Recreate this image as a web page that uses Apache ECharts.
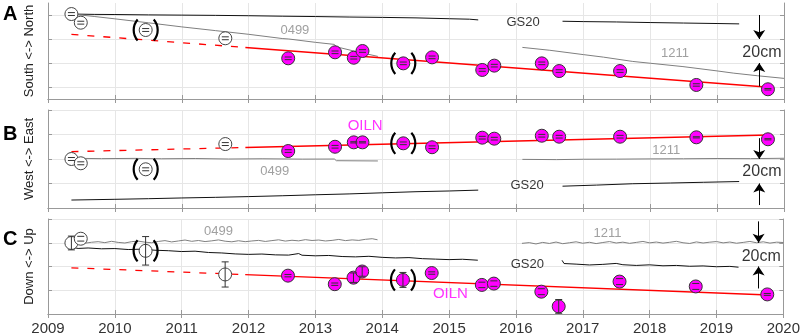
<!DOCTYPE html>
<html>
<head>
  <meta charset="utf-8">
</head>
<body style="margin: 0; background: #fff">
  <div id="container" style="width: 803px; height: 336px"></div>
  <script src="https://cdn.jsdelivr.net/npm/echarts@6/dist/echarts.min.js"></script>
  <script>
// campaign dates (decimal years)
const surveyYears = [2012.59, 2013.29, 2013.57, 2013.70, 2014.31, 2014.74, 2015.49, 2015.67, 2016.38, 2016.64, 2017.55, 2018.69, 2019.76];
const oldYears = [2009.35, 2009.49, 2010.46, 2011.65];

// OILN positions, cm (arbitrary offset per panel)
const oilnNorth = [33.9, 38.9, 34.4, 40.0, 29.7, 34.7, 24.2, 27.8, 29.7, 23.3, 23.3, 11.7, 8.1];
const oilnEast = [46.5, 50.0, 53.6, 53.6, 52.8, 49.6, 57.4, 56.6, 59.0, 58.2, 58.2, 57.7, 56.1];
const oilnUp = [32.3, 25.1, 30.6, 35.8, 28.7, 34.5, 24.5, 25.6, 18.8, 6.4, 27.3, 23.2, 16.5];
const oilnErrNorth = [1.1, 1.1, 1.1, 1.1, 1.1, 1.1, 1.1, 1.1, 1.1, 1.1, 1.1, 1.0, 0.6];
const oilnErrEast = [1.1, 1.1, 0.5, 0.5, 1.1, 1.1, 1.1, 1.1, 1.1, 1.1, 1.1, 0.5, 0.5];
const oilnErrUp = [1.0, 1.0, 4.0, 4.0, 6.3, 1.0, 2.3, 2.3, 2.5, 5.8, 2.5, 2.5, 0.8];

// older campaign points (open circles)
const oldNorth = [70.8, 63.6, 57.5, 50.6];
const oldEast = [40.0, 36.5, 31.6, 52.2];
const oldUp = [59.8, 63.4, 53.2, 33.3];
const oldErrNorth = [1.2, 1.2, 1.2, 1.2];
const oldErrEast = [1.2, 1.2, 1.2, 1.2];
const oldErrUp = [5.8, 2.0, 12.0, 10.6];

// linear fit (dashed before 2011.95)
const redNorth = [[2009.35, 53.9], [2011.95, 42.9], [2019.78, 9.8]];
const redEast = [[2009.35, 46.0], [2011.95, 49.4], [2019.78, 59.6]];
const redUp = [[2009.35, 38.9], [2011.95, 33.2], [2019.78, 16.0]];

// continuous GPS stations
const gs20North1 = [[2009.35, 70.8], [2009.7, 70.5], [2010.0, 70.4], [2010.5, 70.1], [2011.0, 69.9], [2011.5, 69.7], [2012.0, 69.4], [2012.5, 69.0], [2013.0, 68.7], [2013.5, 68.3], [2014.0, 68.0], [2014.5, 67.6], [2015.0, 66.9], [2015.3, 66.5], [2015.43, 65.9]];
const gs20North2 = [[2016.69, 64.8], [2017.0, 64.5], [2017.5, 64.2], [2018.0, 63.7], [2018.5, 63.3], [2019.0, 62.9], [2019.33, 62.6]];
const s0499North = [[2009.35, 70.8], [2009.7, 68.7], [2010.0, 66.8], [2010.5, 63.5], [2011.0, 60.1], [2011.5, 57.0], [2012.0, 53.9], [2012.5, 50.4], [2012.6, 50.0], [2013.0, 47.2], [2013.28, 45.5], [2013.31, 43.5], [2013.6, 39.6], [2013.93, 35.5]];
const s1211North = [[2016.09, 43.0], [2016.5, 40.6], [2017.0, 37.0], [2017.3, 34.9], [2017.74, 31.3], [2018.0, 29.8], [2018.49, 27.0], [2019.0, 23.4], [2019.24, 21.6], [2019.6, 19.4], [2020.0, 17.2]];

const gs20East1 = [[2009.35, 6.5], [2010.0, 7.1], [2010.5, 7.6], [2011.0, 8.2], [2011.5, 8.7], [2012.0, 9.3], [2012.5, 10.0], [2013.0, 10.8], [2013.5, 11.5], [2014.0, 12.4], [2014.5, 13.3], [2015.0, 13.9], [2015.43, 14.6]];
const gs20East2 = [[2016.69, 17.8], [2017.2, 18.7], [2017.74, 19.8], [2018.3, 20.4], [2018.8, 21.0], [2019.33, 21.6]];
const s0499East = [[2009.35, 40.6], [2009.8, 40.3], [2010.3, 40.5], [2010.7, 40.2], [2011.2, 40.4], [2011.7, 40.0], [2012.2, 40.2], [2012.8, 39.9], [2013.28, 40.0], [2013.31, 38.6], [2013.93, 38.4]];
const s1211East = [[2016.09, 39.7], [2016.6, 39.5], [2017.0, 39.8], [2017.5, 39.9], [2018.0, 40.1], [2018.5, 40.2], [2019.0, 40.4], [2019.5, 40.3], [2020.0, 40.6]];

const gs20Up1 = [[2009.35, 56.3], [2009.45, 55.2], [2009.6, 55.6], [2009.8, 54.9], [2010.0, 55.1], [2010.2, 54.3], [2010.4, 54.6], [2010.6, 53.7], [2010.8, 53.3], [2011.0, 52.6], [2011.2, 52.9], [2011.4, 51.8], [2011.6, 51.4], [2011.8, 50.6], [2012.0, 50.2], [2012.2, 50.5], [2012.4, 49.8], [2012.6, 49.6], [2012.75, 50.9], [2012.8, 49.5], [2013.0, 49.0], [2013.2, 49.3], [2013.4, 48.4], [2013.6, 48.1], [2013.8, 48.6], [2014.0, 47.7], [2014.2, 47.2], [2014.4, 47.5], [2014.6, 46.6], [2014.8, 46.2], [2015.0, 45.8], [2015.2, 46.1], [2015.43, 45.3]];
const gs20Up2 = [[2016.69, 45.2], [2016.72, 42.5], [2016.9, 42.0], [2017.1, 41.3], [2017.3, 41.8], [2017.5, 42.6], [2017.6, 41.5], [2017.8, 40.9], [2018.0, 41.4], [2018.2, 40.6], [2018.4, 40.9], [2018.6, 40.2], [2018.8, 40.5], [2019.0, 39.8], [2019.2, 40.1], [2019.33, 39.4]];
const s0499Up = [[2009.35, 60.0], [2009.45, 60.8], [2009.55, 59.6], [2009.65, 60.4], [2009.75, 60.9], [2009.85, 60.1], [2009.95, 61.2], [2010.05, 60.3], [2010.15, 59.8], [2010.25, 60.9], [2010.35, 61.4], [2010.45, 60.5], [2010.55, 60.0], [2010.65, 61.1], [2010.75, 61.8], [2010.85, 60.7], [2010.95, 61.5], [2011.05, 62.3], [2011.15, 61.2], [2011.25, 61.9], [2011.35, 61.0], [2011.45, 61.6], [2011.55, 62.4], [2011.65, 61.3], [2011.75, 60.8], [2011.85, 61.7], [2011.95, 60.9], [2012.05, 61.5], [2012.15, 62.0], [2012.25, 61.1], [2012.35, 61.8], [2012.45, 62.5], [2012.55, 61.4], [2012.65, 62.1], [2012.75, 61.6], [2012.85, 62.6], [2012.95, 61.9], [2013.05, 62.3], [2013.15, 61.5], [2013.25, 62.0], [2013.35, 62.8], [2013.45, 61.8], [2013.55, 62.4], [2013.65, 62.0], [2013.75, 62.9], [2013.85, 63.4], [2013.93, 62.5]];
const s1211Up = [[2016.09, 59.5], [2016.2, 60.1], [2016.3, 59.0], [2016.4, 60.3], [2016.5, 59.4], [2016.6, 60.6], [2016.7, 59.2], [2016.8, 60.0], [2016.9, 60.8], [2017.0, 59.6], [2017.1, 60.4], [2017.2, 59.3], [2017.3, 60.2], [2017.4, 61.0], [2017.5, 59.8], [2017.6, 60.5], [2017.7, 59.5], [2017.8, 60.3], [2017.9, 61.1], [2018.0, 59.9], [2018.1, 60.6], [2018.2, 59.7], [2018.3, 60.4], [2018.4, 61.2], [2018.5, 60.0], [2018.6, 59.4], [2018.7, 60.7], [2018.8, 59.8], [2018.9, 60.5], [2019.0, 61.0], [2019.1, 59.9], [2019.2, 60.6], [2019.3, 59.6], [2019.4, 60.3], [2019.5, 61.1], [2019.6, 60.0], [2019.7, 60.8], [2019.8, 59.7], [2019.9, 60.5], [2020.0, 60.2]];

// text annotations [text, year, cm]
const notesNorth = [['0499', 2012.69, 57.5], ['GS20', 2016.10, 63.6], ['1211', 2018.37, 38.3], ['20cm', 2019.67, 38.3]];
const notesEast = [['OILN', 2013.74, 67.2], ['0499', 2012.39, 29.6], ['1211', 2018.24, 47.3], ['GS20', 2016.16, 18.2], ['20cm', 2019.67, 29.4]];
const notesUp = [['0499', 2011.55, 69.7], ['1211', 2017.37, 67.6], ['GS20', 2016.17, 41.4], ['OILN', 2015.02, 16.8], ['20cm', 2019.67, 48.0]];

// 20 cm scale arrows [year, from, to]
const arrowsNorth = [[2019.63, 70, 50], [2019.63, 10.5, 30]];
const arrowsEast = [[2019.63, 57, 40], [2019.63, 2.4, 20]];
const arrowsUp = [[2019.63, 78, 60], [2019.63, 21.5, 40]];

const panelNames = ['South <-> North', 'West <-> East', 'Down <-> Up'];
const panelLetters = ['A', 'B', 'C'];
const bracketIdx = 4, oldBracketIdx = 2;

var FONT = '"Liberation Sans", Arial, Helvetica, sans-serif';
var GRAY = '#7f7f7f';
var panels = [
  {top: 3, height: 96, oiln: oilnNorth, oilnErr: oilnErrNorth, old: oldNorth, oldErr: oldErrNorth, red: redNorth,
   lines: [[gs20North1, '#111'], [gs20North2, '#111'], [s0499North, GRAY], [s1211North, GRAY]],
   notes: notesNorth, arrows: arrowsNorth, ticks: [10, 30, 50, 70]},
  {top: 110, height: 98, oiln: oilnEast, oilnErr: oilnErrEast, old: oldEast, oldErr: oldErrEast, red: redEast,
   lines: [[gs20East1, '#111'], [gs20East2, '#111'], [s0499East, GRAY], [s1211East, GRAY]],
   notes: notesEast, arrows: arrowsEast, ticks: [0, 20, 40, 60, 80]},
  {top: 219, height: 97, oiln: oilnUp, oilnErr: oilnErrUp, old: oldUp, oldErr: oldErrUp, red: redUp,
   lines: [[gs20Up1, '#111'], [gs20Up2, '#111'], [s0499Up, GRAY], [s1211Up, GRAY]],
   notes: notesUp, arrows: arrowsUp, ticks: [0, 20, 40, 60, 80]}
];

var noteColor = {'0499': '#888', '1211': '#888', 'GS20': '#000', 'OILN': '#ff00ff', '20cm': '#000'};
var noteSize = {'0499': 13, '1211': 13, 'GS20': 13, 'OILN': 15, '20cm': 16};

function errRender(params, api) {
  var x = api.value(0);
  var p1 = api.coord([x, api.value(1)]);
  var p2 = api.coord([x, api.value(2)]);
  var w = 3.5;
  var st = {stroke: '#333', lineWidth: 1, fill: 'none'};
  var kids = [
    {type: 'line', shape: {x1: p1[0] - w, y1: p1[1], x2: p1[0] + w, y2: p1[1]}, style: st},
    {type: 'line', shape: {x1: p2[0] - w, y1: p2[1], x2: p2[0] + w, y2: p2[1]}, style: st}
  ];
  // short bars only show the caps
  if (Math.abs(p1[1] - p2[1]) > 6) {
    kids.push({type: 'line', shape: {x1: p1[0], y1: p1[1], x2: p2[0], y2: p2[1]}, style: st});
  }
  return {type: 'group', children: kids};
}

function parenRender(params, api) {
  var c = api.coord([api.value(0), api.value(1)]);
  var r = 16, a = 0.72, off = 4;
  var st = {stroke: '#000', lineWidth: 2.2, fill: 'none'};
  return {type: 'group', children: [
    {type: 'arc', shape: {cx: c[0] + off, cy: c[1], r: r, startAngle: Math.PI - a, endAngle: Math.PI + a}, style: st},
    {type: 'arc', shape: {cx: c[0] - off, cy: c[1], r: r, startAngle: -a, endAngle: a}, style: st}
  ]};
}

var grid = [], xAxis = [], yAxis = [], series = [], graphic = [];
panels.forEach(function (p, i) {
  grid.push({left: 48, right: 19, top: p.top, height: p.height});
  var last = i === 2;
  xAxis.push({
    type: 'value', gridIndex: i, min: 2009, max: 2020, interval: 1,
    axisLine: {show: true, lineStyle: {color: '#999'}},
    axisTick: {show: true, inside: true, length: 4, lineStyle: {color: '#999'}},
    splitLine: {show: true, lineStyle: {color: '#e6e6e6'}},
    axisLabel: {show: last, color: '#333', fontSize: 15, fontFamily: FONT, margin: 7,
                showMinLabel: true, showMaxLabel: true,
                formatter: function (v) { return String(v); }}
  });
  yAxis.push({
    type: 'value', gridIndex: i, min: 0, max: 80,
    name: panelNames[i], nameLocation: 'middle', nameGap: 12,
    nameTextStyle: {fontSize: 13, color: '#222', fontFamily: FONT},
    axisLine: {show: true, lineStyle: {color: '#999'}},
    axisTick: {show: true, inside: true, length: 4, customValues: p.ticks, lineStyle: {color: '#999'}},
    splitLine: {show: true, lineStyle: {color: '#e6e6e6'}},
    axisLabel: {show: false, customValues: p.ticks}
  });
  graphic.push({type: 'text', left: 3, top: p.top + [1, 14, 10][i],
    style: {text: panelLetters[i], font: 'bold 20px ' + FONT, fill: '#000'}});
});
// top and right axes only for frame and inner ticks
panels.forEach(function (p, i) {
  xAxis.push({
    type: 'value', gridIndex: i, position: 'top', min: 2009, max: 2020, interval: 1,
    axisLine: {show: true, lineStyle: {color: '#999'}},
    axisTick: {show: true, inside: true, length: 4, lineStyle: {color: '#999'}},
    splitLine: {show: false}, axisLabel: {show: false}
  });
  yAxis.push({
    type: 'value', gridIndex: i, position: 'right', min: 0, max: 80,
    axisLine: {show: true, lineStyle: {color: '#999'}},
    axisTick: {show: true, inside: true, length: 4, customValues: p.ticks, lineStyle: {color: '#999'}},
    splitLine: {show: false}, axisLabel: {show: false, customValues: p.ticks}
  });
});

panels.forEach(function (p, i) {
  var ax = {xAxisIndex: i, yAxisIndex: i};
  p.lines.forEach(function (l) {
    series.push(Object.assign({type: 'line', data: l[0], symbol: 'none', z: 2,
      lineStyle: {color: l[1], width: 1}}, ax));
  });
  series.push(Object.assign({type: 'line', data: p.red.slice(0, 2), symbol: 'none', z: 3,
    lineStyle: {color: '#ff0000', width: 1.3, type: [7, 9]}}, ax));
  series.push(Object.assign({type: 'line', data: p.red.slice(1), symbol: 'none', z: 3,
    lineStyle: {color: '#ff0000', width: 1.3}}, ax));
  series.push(Object.assign({type: 'scatter', z: 4, symbolSize: 13,
    data: oldYears.map(function (t, k) { return [t, p.old[k]]; }),
    itemStyle: {color: '#fff', borderColor: '#444', borderWidth: 1, opacity: 1}}, ax));
  series.push(Object.assign({type: 'scatter', z: 4, symbolSize: 13,
    data: surveyYears.map(function (t, k) { return [t, p.oiln[k]]; }),
    itemStyle: {color: '#ff00ff', borderColor: '#333', borderWidth: 1, opacity: 1}}, ax));
  var errs = oldYears.map(function (t, k) { return [t, p.old[k] - p.oldErr[k], p.old[k] + p.oldErr[k]]; })
    .concat(surveyYears.map(function (t, k) { return [t, p.oiln[k] - p.oilnErr[k], p.oiln[k] + p.oilnErr[k]]; }));
  series.push(Object.assign({type: 'custom', z: 5, renderItem: errRender, data: errs,
    encode: {x: 0, y: [1, 2]}}, ax));
  series.push(Object.assign({type: 'custom', z: 5, renderItem: parenRender, encode: {x: 0, y: 1},
    data: [[surveyYears[bracketIdx], p.oiln[bracketIdx]], [oldYears[oldBracketIdx], p.old[oldBracketIdx]]]}, ax));
  series.push(Object.assign({type: 'scatter', z: 6, symbolSize: 1,
    itemStyle: {color: 'rgba(0,0,0,0)'},
    data: p.notes.map(function (n) {
      return {name: n[0], value: [n[1], n[2]],
        label: {color: noteColor[n[0]], fontSize: noteSize[n[0]]}};
    }),
    label: {show: true, position: 'inside', formatter: '{b}', fontFamily: FONT},
    markLine: {
      silent: true, symbol: ['none', 'arrow'], symbolSize: 9, label: {show: false},
      lineStyle: {color: '#000', width: 1, type: 'solid'},
      data: p.arrows.map(function (a) { return [{coord: [a[0], a[1]]}, {coord: [a[0], a[2]]}]; })
    }
  }, ax));
});

var myChart = echarts.init(document.getElementById('container'), null, {renderer: 'canvas'});
myChart.setOption({
  animation: false,
  grid: grid,
  xAxis: xAxis,
  yAxis: yAxis,
  series: series,
  graphic: graphic
});
  </script>
</body>
</html>
